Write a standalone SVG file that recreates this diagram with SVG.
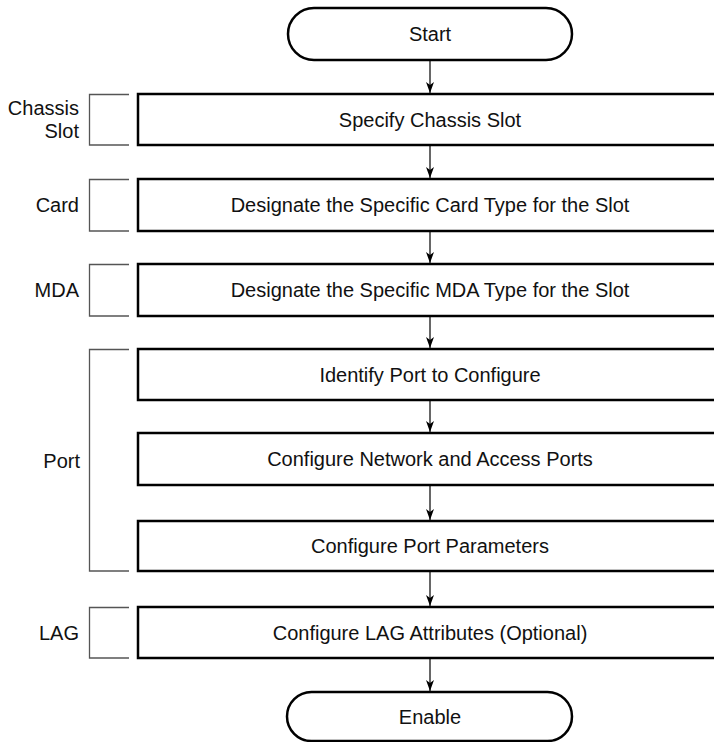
<svg xmlns="http://www.w3.org/2000/svg" width="714" height="742" viewBox="0 0 714 742">
<defs>
<style>
.box{fill:#fff;stroke:#000;stroke-width:2.5}
.pill{fill:#fff;stroke:#000;stroke-width:2.5}
.br{fill:none;stroke:#555;stroke-width:1.3}
.t{font-family:"Liberation Sans",Arial,sans-serif;font-size:20px;fill:#111;text-anchor:middle;dominant-baseline:central}
.lb{font-family:"Liberation Sans",Arial,sans-serif;font-size:20px;fill:#111;text-anchor:end;dominant-baseline:central}
.c{stroke:#000;stroke-width:1.2;fill:none;marker-end:url(#ah)}
</style>
<marker id="ah" markerWidth="12" markerHeight="8" refX="11" refY="4" orient="auto" markerUnits="userSpaceOnUse" viewBox="0 0 12 8">
<path d="M0,0 L11,4 L0,8 L3,4 Z" fill="#000"/>
</marker>
</defs>
<rect width="714" height="742" fill="#fff"/>
<g id="connectors">
<line class="c" x1="430" y1="61" x2="430" y2="93"/>
<line class="c" x1="430" y1="146" x2="430" y2="178"/>
<line class="c" x1="430" y1="232" x2="430" y2="263"/>
<line class="c" x1="430" y1="317" x2="430" y2="348"/>
<line class="c" x1="430" y1="401" x2="430" y2="432"/>
<line class="c" x1="430" y1="486" x2="430" y2="520"/>
<line class="c" x1="430" y1="572" x2="430" y2="606"/>
<line class="c" x1="430" y1="659" x2="430" y2="691"/>
</g>
<g id="start"><rect class="pill" x="288" y="8" width="284" height="52" rx="26"/><text class="t" x="430" y="34">Start</text></g>
<g id="chassis"><rect class="box" x="138" y="94" width="600" height="51"/><text class="t" x="430" y="120">Specify Chassis Slot</text></g>
<g id="card"><rect class="box" x="138" y="179" width="600" height="52"/><text class="t" x="430" y="205">Designate the Specific Card Type for the Slot</text></g>
<g id="mda"><rect class="box" x="138" y="264" width="600" height="52"/><text class="t" x="430" y="290">Designate the Specific MDA Type for the Slot</text></g>
<g id="identify"><rect class="box" x="138" y="349" width="600" height="51"/><text class="t" x="430" y="375">Identify Port to Configure</text></g>
<g id="network"><rect class="box" x="138" y="433" width="600" height="52"/><text class="t" x="430" y="459">Configure Network and Access Ports</text></g>
<g id="params"><rect class="box" x="138" y="521" width="600" height="50"/><text class="t" x="430" y="546">Configure Port Parameters</text></g>
<g id="lag"><rect class="box" x="138" y="607" width="600" height="51"/><text class="t" x="430" y="633">Configure LAG Attributes (Optional)</text></g>
<g id="enable"><rect class="pill" x="287" y="692" width="285" height="49" rx="24.5"/><text class="t" x="430" y="717">Enable</text></g>
<g id="labels">
<path class="br" d="M129,94.5 H89.5 V145 H129"/>
<text class="lb" x="79" y="108">Chassis</text><text class="lb" x="79" y="131">Slot</text>
<path class="br" d="M129,179.5 H89.5 V231 H129"/>
<text class="lb" x="79" y="205">Card</text>
<path class="br" d="M129,264.5 H89.5 V316 H129"/>
<text class="lb" x="79" y="290">MDA</text>
<path class="br" d="M129,349.5 H89.5 V571 H129"/>
<text class="lb" x="80" y="461">Port</text>
<path class="br" d="M129,607.5 H89.5 V658 H129"/>
<text class="lb" x="79" y="633">LAG</text>
</g>
</svg>
